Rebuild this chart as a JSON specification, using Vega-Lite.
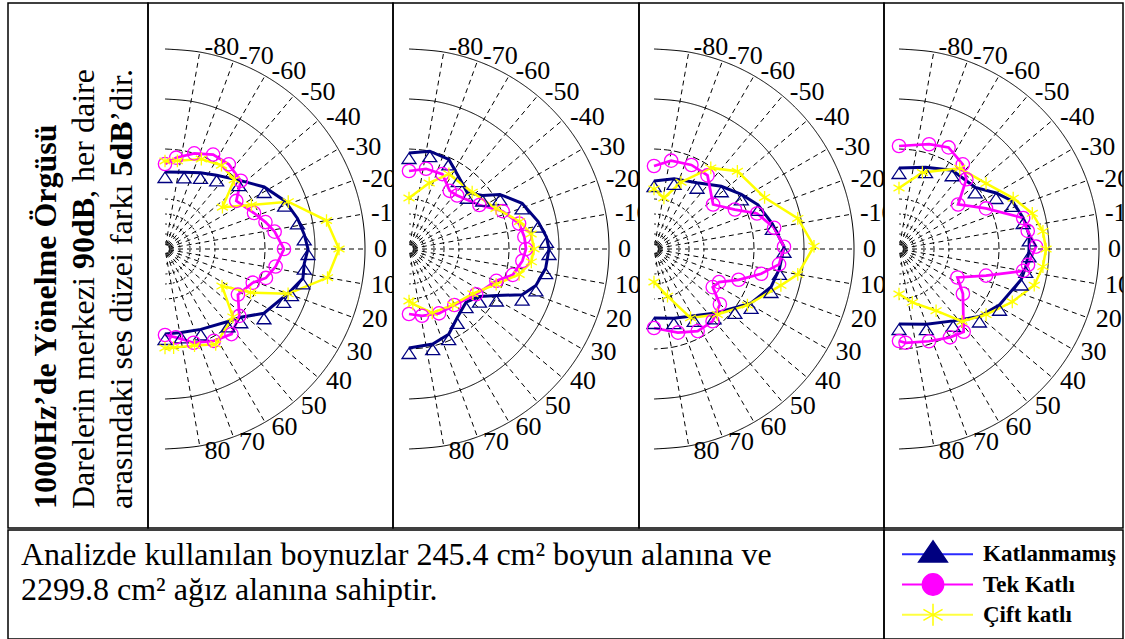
{
"$schema": "https://vega.github.io/schema/vega-lite/v6.json",
"background": "white",
"padding": {"left": 7, "top": 2, "right": 0, "bottom": 0},
"config": {"view": {"stroke": "black", "strokeWidth": 1.5}},
"datasets": {
"rings": [
{"lvl": 110, "a": [-90,-80,-70,-60,-50,-40,-30,-20,-10,0,10,20,30,40,50,60,70,80,90]},
{"lvl": 105, "a": [-90,-80,-70,-60,-50,-40,-30,-20,-10,0,10,20,30,40,50,60,70,80,90]},
{"lvl": 100, "a": [-90,-80,-70,-60,-50,-40,-30,-20,-10,0,10,20,30,40,50,60,70,80,90]},
{"lvl": 95, "a": [-90,-80,-70,-60,-50,-40,-30,-20,-10,0,10,20,30,40,50,60,70,80,90]},
{"lvl": 93.5, "a": [-90,-80,-70,-60,-50,-40,-30,-20,-10,0,10,20,30,40,50,60,70,80,90]},
{"lvl": 92.5, "a": [-90,-80,-70,-60,-50,-40,-30,-20,-10,0,10,20,30,40,50,60,70,80,90]},
{"lvl": 91.5, "a": [-90,-80,-70,-60,-50,-40,-30,-20,-10,0,10,20,30,40,50,60,70,80,90]},
{"lvl": 90.7, "a": [-90,-80,-70,-60,-50,-40,-30,-20,-10,0,10,20,30,40,50,60,70,80,90]}
],
"spokes": [{"a":-80},{"a":-70},{"a":-60},{"a":-50},{"a":-40},{"a":-30},{"a":-20},{"a":-10},{"a":0},{"a":10},{"a":20},{"a":30},{"a":40},{"a":50},{"a":60},{"a":70},{"a":80}],
"series": [
{"p":1,"s":"K","a":-90,"lvl":97.7},{"p":1,"s":"K","a":-76,"lvl":97.9},{"p":1,"s":"K","a":-65,"lvl":98.4},{"p":1,"s":"K","a":-55,"lvl":99.0},{"p":1,"s":"K","a":-43,"lvl":100.1},{"p":1,"s":"K","a":-32,"lvl":101.7},{"p":1,"s":"K","a":-22,"lvl":102.9},{"p":1,"s":"K","a":-13,"lvl":103.6},{"p":1,"s":"K","a":-6,"lvl":104.0},{"p":1,"s":"K","a":0,"lvl":104.3},{"p":1,"s":"K","a":6,"lvl":104.0},{"p":1,"s":"K","a":12,"lvl":104.1},{"p":1,"s":"K","a":18,"lvl":103.3},{"p":1,"s":"K","a":22,"lvl":102.8},{"p":1,"s":"K","a":33,"lvl":101.8},{"p":1,"s":"K","a":42,"lvl":100.2},{"p":1,"s":"K","a":49,"lvl":99.6},{"p":1,"s":"K","a":66,"lvl":98.8},{"p":1,"s":"K","a":79,"lvl":98.5},{"p":1,"s":"K","a":90,"lvl":98.5},
{"p":1,"s":"T","a":-90,"lvl":98.5},{"p":1,"s":"T","a":-83,"lvl":99.2},{"p":1,"s":"T","a":-73,"lvl":100.0},{"p":1,"s":"T","a":-63,"lvl":100.6},{"p":1,"s":"T","a":-53,"lvl":100.6},{"p":1,"s":"T","a":-42,"lvl":100.2},{"p":1,"s":"T","a":-34,"lvl":98.6},{"p":1,"s":"T","a":-22,"lvl":99.6},{"p":1,"s":"T","a":-15,"lvl":100.4},{"p":1,"s":"T","a":-9,"lvl":101.1},{"p":1,"s":"T","a":0,"lvl":101.9},{"p":1,"s":"T","a":9,"lvl":101.2},{"p":1,"s":"T","a":16,"lvl":100.5},{"p":1,"s":"T","a":21,"lvl":99.4},{"p":1,"s":"T","a":32,"lvl":98.6},{"p":1,"s":"T","a":42,"lvl":100.0},{"p":1,"s":"T","a":52,"lvl":100.8},{"p":1,"s":"T","a":62,"lvl":100.4},{"p":1,"s":"T","a":73,"lvl":99.8},{"p":1,"s":"T","a":83,"lvl":98.9},{"p":1,"s":"T","a":90,"lvl":98.6},
{"p":1,"s":"C","a":-90,"lvl":98.8},{"p":1,"s":"C","a":-82,"lvl":98.9},{"p":1,"s":"C","a":-68,"lvl":99.7},{"p":1,"s":"C","a":-56,"lvl":100.1},{"p":1,"s":"C","a":-45,"lvl":99.8},{"p":1,"s":"C","a":-36,"lvl":97.1},{"p":1,"s":"C","a":-27,"lvl":99.7},{"p":1,"s":"C","a":-21,"lvl":103.2},{"p":1,"s":"C","a":-10,"lvl":106.4},{"p":1,"s":"C","a":0,"lvl":107.4},{"p":1,"s":"C","a":10,"lvl":106.5},{"p":1,"s":"C","a":20,"lvl":103.1},{"p":1,"s":"C","a":27,"lvl":99.6},{"p":1,"s":"C","a":33,"lvl":96.8},{"p":1,"s":"C","a":45,"lvl":99.6},{"p":1,"s":"C","a":62,"lvl":100.8},{"p":1,"s":"C","a":73,"lvl":100.1},{"p":1,"s":"C","a":85,"lvl":99.9},{"p":1,"s":"C","a":90,"lvl":99.9},
{"p":2,"s":"K","a":-90,"lvl":99.6},{"p":2,"s":"K","a":-78,"lvl":100.0},{"p":2,"s":"K","a":-66,"lvl":99.8},{"p":2,"s":"K","a":-56,"lvl":98.8},{"p":2,"s":"K","a":-44,"lvl":98.1},{"p":2,"s":"K","a":-36,"lvl":99.1},{"p":2,"s":"K","a":-31,"lvl":100.6},{"p":2,"s":"K","a":-22,"lvl":102.2},{"p":2,"s":"K","a":-12,"lvl":103.2},{"p":2,"s":"K","a":-5,"lvl":103.8},{"p":2,"s":"K","a":0,"lvl":104.0},{"p":2,"s":"K","a":8,"lvl":103.8},{"p":2,"s":"K","a":16,"lvl":103.2},{"p":2,"s":"K","a":22,"lvl":102.2},{"p":2,"s":"K","a":28,"lvl":99.9},{"p":2,"s":"K","a":34,"lvl":98.5},{"p":2,"s":"K","a":43,"lvl":97.8},{"p":2,"s":"K","a":55,"lvl":98.4},{"p":2,"s":"K","a":65,"lvl":99.4},{"p":2,"s":"K","a":76,"lvl":99.8},{"p":2,"s":"K","a":90,"lvl":99.9},
{"p":2,"s":"T","a":-90,"lvl":97.8},{"p":2,"s":"T","a":-78,"lvl":98.2},{"p":2,"s":"T","a":-66,"lvl":98.2},{"p":2,"s":"T","a":-55,"lvl":97.1},{"p":2,"s":"T","a":-48,"lvl":97.2},{"p":2,"s":"T","a":-32,"lvl":98.3},{"p":2,"s":"T","a":-22,"lvl":100.1},{"p":2,"s":"T","a":-13,"lvl":101.3},{"p":2,"s":"T","a":-6,"lvl":101.6},{"p":2,"s":"T","a":0,"lvl":101.7},{"p":2,"s":"T","a":6,"lvl":101.4},{"p":2,"s":"T","a":14,"lvl":100.7},{"p":2,"s":"T","a":20,"lvl":99.3},{"p":2,"s":"T","a":34,"lvl":98.1},{"p":2,"s":"T","a":51,"lvl":97.2},{"p":2,"s":"T","a":65,"lvl":97.1},{"p":2,"s":"T","a":79,"lvl":96.8},{"p":2,"s":"T","a":90,"lvl":96.5},
{"p":2,"s":"C","a":-90,"lvl":95.1},{"p":2,"s":"C","a":-73,"lvl":96.9},{"p":2,"s":"C","a":-62,"lvl":98.5},{"p":2,"s":"C","a":-42,"lvl":98.5},{"p":2,"s":"C","a":-25,"lvl":99.6},{"p":2,"s":"C","a":-14,"lvl":101.4},{"p":2,"s":"C","a":-7,"lvl":102.3},{"p":2,"s":"C","a":0,"lvl":102.5},{"p":2,"s":"C","a":6,"lvl":102.3},{"p":2,"s":"C","a":13,"lvl":101.3},{"p":2,"s":"C","a":22,"lvl":99.4},{"p":2,"s":"C","a":35,"lvl":97.8},{"p":2,"s":"C","a":52,"lvl":97.1},{"p":2,"s":"C","a":70,"lvl":96.8},{"p":2,"s":"C","a":86,"lvl":95.5},{"p":2,"s":"C","a":90,"lvl":95.2},
{"p":3,"s":"K","a":-90,"lvl":96.8},{"p":3,"s":"K","a":-74,"lvl":97.3},{"p":3,"s":"K","a":-57,"lvl":97.9},{"p":3,"s":"K","a":-43,"lvl":99.2},{"p":3,"s":"K","a":-32,"lvl":100.3},{"p":3,"s":"K","a":-23,"lvl":101.3},{"p":3,"s":"K","a":-12,"lvl":102.1},{"p":3,"s":"K","a":-1,"lvl":103.0},{"p":3,"s":"K","a":9,"lvl":102.7},{"p":3,"s":"K","a":18,"lvl":102.3},{"p":3,"s":"K","a":29,"lvl":101.1},{"p":3,"s":"K","a":36,"lvl":100.0},{"p":3,"s":"K","a":47,"lvl":98.8},{"p":3,"s":"K","a":59,"lvl":97.8},{"p":3,"s":"K","a":74,"lvl":97.2},{"p":3,"s":"K","a":90,"lvl":96.9},
{"p":3,"s":"T","a":-90,"lvl":98.3},{"p":3,"s":"T","a":-79,"lvl":99.0},{"p":3,"s":"T","a":-66,"lvl":99.2},{"p":3,"s":"T","a":-54,"lvl":99.1},{"p":3,"s":"T","a":-37,"lvl":97.4},{"p":3,"s":"T","a":-26,"lvl":99.0},{"p":3,"s":"T","a":-19,"lvl":100.9},{"p":3,"s":"T","a":-10,"lvl":102.2},{"p":3,"s":"T","a":-1,"lvl":103.0},{"p":3,"s":"T","a":7,"lvl":102.6},{"p":3,"s":"T","a":13,"lvl":101.0},{"p":3,"s":"T","a":20,"lvl":99.0},{"p":3,"s":"T","a":27,"lvl":97.3},{"p":3,"s":"T","a":33,"lvl":97.0},{"p":3,"s":"T","a":40,"lvl":98.6},{"p":3,"s":"T","a":51,"lvl":99.3},{"p":3,"s":"T","a":62,"lvl":99.3},{"p":3,"s":"T","a":74,"lvl":98.7},{"p":3,"s":"T","a":90,"lvl":97.9},
{"p":3,"s":"C","a":-90,"lvl":96.0},{"p":3,"s":"C","a":-79,"lvl":95.2},{"p":3,"s":"C","a":-68,"lvl":97.2},{"p":3,"s":"C","a":-55,"lvl":99.9},{"p":3,"s":"C","a":-43,"lvl":101.4},{"p":3,"s":"C","a":-25,"lvl":102.2},{"p":3,"s":"C","a":-12,"lvl":104.7},{"p":3,"s":"C","a":-1,"lvl":106.0},{"p":3,"s":"C","a":10,"lvl":104.6},{"p":3,"s":"C","a":16,"lvl":103.2},{"p":3,"s":"C","a":31,"lvl":100.9},{"p":3,"s":"C","a":46,"lvl":99.1},{"p":3,"s":"C","a":62,"lvl":97.8},{"p":3,"s":"C","a":74,"lvl":94.9},{"p":3,"s":"C","a":90,"lvl":93.3},
{"p":4,"s":"K","a":-90,"lvl":98.1},{"p":4,"s":"K","a":-72,"lvl":98.6},{"p":4,"s":"K","a":-56,"lvl":99.5},{"p":4,"s":"K","a":-39,"lvl":99.8},{"p":4,"s":"K","a":-30,"lvl":101.2},{"p":4,"s":"K","a":-23,"lvl":102.3},{"p":4,"s":"K","a":-14,"lvl":102.8},{"p":4,"s":"K","a":-6,"lvl":103.1},{"p":4,"s":"K","a":1,"lvl":103.0},{"p":4,"s":"K","a":8,"lvl":102.8},{"p":4,"s":"K","a":14,"lvl":102.6},{"p":4,"s":"K","a":29,"lvl":101.5},{"p":4,"s":"K","a":40,"lvl":100.5},{"p":4,"s":"K","a":53,"lvl":99.0},{"p":4,"s":"K","a":70,"lvl":98.0},{"p":4,"s":"K","a":90,"lvl":97.5},
{"p":4,"s":"T","a":-90,"lvl":100.3},{"p":4,"s":"T","a":-74,"lvl":100.9},{"p":4,"s":"T","a":-64,"lvl":101.3},{"p":4,"s":"T","a":-53,"lvl":100.6},{"p":4,"s":"T","a":-46,"lvl":99.7},{"p":4,"s":"T","a":-37,"lvl":97.4},{"p":4,"s":"T","a":-25,"lvl":99.6},{"p":4,"s":"T","a":-14,"lvl":102.8},{"p":4,"s":"T","a":-8,"lvl":103.0},{"p":4,"s":"T","a":-1,"lvl":103.7},{"p":4,"s":"T","a":7,"lvl":103.0},{"p":4,"s":"T","a":10,"lvl":102.6},{"p":4,"s":"T","a":17,"lvl":99.1},{"p":4,"s":"T","a":26,"lvl":96.5},{"p":4,"s":"T","a":35,"lvl":97.8},{"p":4,"s":"T","a":52,"lvl":100.5},{"p":4,"s":"T","a":60,"lvl":100.2},{"p":4,"s":"T","a":72,"lvl":99.7},{"p":4,"s":"T","a":86,"lvl":99.4},{"p":4,"s":"T","a":90,"lvl":99.2},
{"p":4,"s":"C","a":-90,"lvl":96.1},{"p":4,"s":"C","a":-73,"lvl":98.0},{"p":4,"s":"C","a":-53,"lvl":100.1},{"p":4,"s":"C","a":-37,"lvl":100.9},{"p":4,"s":"C","a":-24,"lvl":102.5},{"p":4,"s":"C","a":-15,"lvl":103.8},{"p":4,"s":"C","a":-7,"lvl":104.5},{"p":4,"s":"C","a":0,"lvl":104.7},{"p":4,"s":"C","a":7,"lvl":104.5},{"p":4,"s":"C","a":15,"lvl":104.0},{"p":4,"s":"C","a":25,"lvl":102.5},{"p":4,"s":"C","a":37,"lvl":100.9},{"p":4,"s":"C","a":49,"lvl":99.6},{"p":4,"s":"C","a":59,"lvl":97.2},{"p":4,"s":"C","a":76,"lvl":95.5},{"p":4,"s":"C","a":90,"lvl":94.5}
]
},
"spacing": 0,
"resolve": {"scale": {"x": "independent", "y": "independent", "color": "independent", "shape": "independent", "size": "independent", "strokeWidth": "independent", "strokeDash": "independent", "fill": "independent", "stroke": "independent"}},
"vconcat": [
{
"spacing": 0,
"bounds": "flush",
"resolve": {"scale": {"x": "independent", "y": "independent", "color": "independent", "shape": "independent", "size": "independent", "strokeWidth": "independent", "strokeDash": "independent", "fill": "independent", "stroke": "independent"}},
"hconcat": [
{
"width": 140, "height": 525,
"data": {"values": [
{"line": 1, "em": 0, "b": true, "txt": "1000Hz’de Yönelme Örgüsü"},
{"line": 2, "em": 0, "b": false, "txt": "Darelerin merkezi"},
{"line": 2, "em": 7.497, "b": true, "txt": "90dB"},
{"line": 2, "em": 9.72, "b": false, "txt": ", her daire"},
{"line": 3, "em": 0, "b": false, "txt": "arasındaki ses düzei farkı"},
{"line": 3, "em": 10.386, "b": true, "txt": "5dB"},
{"line": 3, "em": 12.109, "b": false, "txt": "’dir."}
]},
"encoding": {
"x": {"field": "line", "type": "quantitative", "scale": {"domain": [-0.263, 3.421], "nice": false, "zero": false}, "axis": null},
"y": {"field": "em", "type": "quantitative", "scale": {"domain": [-0.594, 15.81], "nice": false, "zero": false}, "axis": null},
"text": {"field": "txt"}
},
"layer": [
{"transform": [{"filter": "datum.b"}], "mark": {"type": "text", "angle": 270, "align": "left", "baseline": "alphabetic", "font": "Liberation Serif", "fontSize": 32, "fontWeight": "bold", "color": "black"}},
{"transform": [{"filter": "!datum.b"}], "mark": {"type": "text", "angle": 270, "align": "left", "baseline": "alphabetic", "font": "Liberation Serif", "fontSize": 32, "fontWeight": "normal", "color": "black"}}
]
},
{
"width": 245, "height": 525,
"layer": [
{"data": {"name": "rings"}, "transform": [{"flatten": ["a"]}, {"calculate": "(datum.lvl-90)*cos(datum.a*PI/180)", "as": "x"}, {"calculate": "-(datum.lvl-90)*sin(datum.a*PI/180)", "as": "y"}],
"mark": {"type": "line", "interpolate": "cardinal", "color": "black", "strokeWidth": 1},
"encoding": {"x": {"field": "x", "type": "quantitative", "scale": {"domain": [-1.7, 22.8], "nice": false, "zero": false}, "axis": null}, "y": {"field": "y", "type": "quantitative", "scale": {"domain": [-27.9, 24.6], "nice": false, "zero": false}, "axis": null}, "order": {"field": "a", "type": "quantitative"}, "strokeDash": {"field": "lvl", "type": "ordinal", "scale": {"domain": [110, 105, 100, 95, 93.5, 92.5, 91.5, 90.7], "range": [[1, 0], [1, 0], [7, 3], [3, 3], [2, 2], [2, 2], [2, 2], [1, 1]]}, "legend": null}}},
{"data": {"name": "spokes"}, "transform": [{"calculate": "0.4*cos(datum.a*PI/180)", "as": "x"}, {"calculate": "-0.4*sin(datum.a*PI/180)", "as": "y"}, {"calculate": "20.2*cos(datum.a*PI/180)", "as": "x2"}, {"calculate": "-20.2*sin(datum.a*PI/180)", "as": "y2"}],
"mark": {"type": "rule", "color": "black", "strokeWidth": 1, "strokeDash": [5, 4]},
"encoding": {"x": {"field": "x", "type": "quantitative"}, "y": {"field": "y", "type": "quantitative"}, "x2": {"field": "x2"}, "y2": {"field": "y2"}}},
{"data": {"name": "spokes"}, "transform": [{"calculate": "20.5*cos(datum.a*PI/180)", "as": "x"}, {"calculate": "-20.5*sin(datum.a*PI/180)", "as": "y"}, {"calculate": "'' + datum.a", "as": "t"}],
"mark": {"type": "text", "align": "left", "baseline": "middle", "dx": 4, "font": "Liberation Sans Narrow", "fontSize": 26, "clip": true, "color": "black"},
"encoding": {"x": {"field": "x", "type": "quantitative"}, "y": {"field": "y", "type": "quantitative"}, "text": {"field": "t"}}},
{"data": {"name": "series"}, "transform": [{"filter": "datum.p == 1"}, {"calculate": "(datum.lvl-90)*cos(datum.a*PI/180)", "as": "x"}, {"calculate": "-(datum.lvl-90)*sin(datum.a*PI/180)", "as": "y"}],
"mark": {"type": "line"},
"encoding": {"x": {"field": "x", "type": "quantitative"}, "y": {"field": "y", "type": "quantitative"}, "order": {"field": "a", "type": "quantitative"}, "color": {"field": "s", "type": "nominal", "scale": {"domain": ["K", "T", "C"], "range": ["#000080", "#ff00ff", "#ffff00"]}, "legend": null}, "strokeWidth": {"field": "s", "type": "nominal", "scale": {"domain": ["K", "T", "C"], "range": [3, 2.5, 3]}, "legend": null}}},
{"data": {"name": "series"}, "transform": [{"filter": "datum.p == 1"}, {"calculate": "(datum.lvl-90)*cos(datum.a*PI/180)", "as": "x"}, {"calculate": "-(datum.lvl-90)*sin(datum.a*PI/180)", "as": "y"}],
"mark": {"type": "point", "filled": false, "strokeWidth": 1.3, "opacity": 1},
"encoding": {"x": {"field": "x", "type": "quantitative"}, "y": {"field": "y", "type": "quantitative"}, "color": {"field": "s", "type": "nominal", "scale": {"domain": ["K", "T", "C"], "range": ["#000080", "#ff00ff", "#ffff00"]}, "legend": null}, "shape": {"field": "s", "type": "nominal", "scale": {"domain": ["K", "T", "C"], "range": ["M0,0L-1,1.5L1,1.5Z", "circle", "M0,-1L0,1M-0.87,-0.5L0.87,0.5M-0.87,0.5L0.87,-0.5"]}, "legend": null}, "size": {"field": "s", "type": "nominal", "scale": {"domain": ["K", "T", "C"], "range": [196, 160, 150]}, "legend": null}}}
]
},
{
"width": 246, "height": 525,
"layer": [
{"data": {"name": "rings"}, "transform": [{"flatten": ["a"]}, {"calculate": "(datum.lvl-90)*cos(datum.a*PI/180)", "as": "x"}, {"calculate": "-(datum.lvl-90)*sin(datum.a*PI/180)", "as": "y"}],
"mark": {"type": "line", "interpolate": "cardinal", "color": "black", "strokeWidth": 1},
"encoding": {"x": {"field": "x", "type": "quantitative", "scale": {"domain": [-1.6, 23.0], "nice": false, "zero": false}, "axis": null}, "y": {"field": "y", "type": "quantitative", "scale": {"domain": [-27.9, 24.6], "nice": false, "zero": false}, "axis": null}, "order": {"field": "a", "type": "quantitative"}, "strokeDash": {"field": "lvl", "type": "ordinal", "scale": {"domain": [110, 105, 100, 95, 93.5, 92.5, 91.5, 90.7], "range": [[1, 0], [1, 0], [7, 3], [3, 3], [2, 2], [2, 2], [2, 2], [1, 1]]}, "legend": null}}},
{"data": {"name": "spokes"}, "transform": [{"calculate": "0.4*cos(datum.a*PI/180)", "as": "x"}, {"calculate": "-0.4*sin(datum.a*PI/180)", "as": "y"}, {"calculate": "20.2*cos(datum.a*PI/180)", "as": "x2"}, {"calculate": "-20.2*sin(datum.a*PI/180)", "as": "y2"}],
"mark": {"type": "rule", "color": "black", "strokeWidth": 1, "strokeDash": [5, 4]},
"encoding": {"x": {"field": "x", "type": "quantitative"}, "y": {"field": "y", "type": "quantitative"}, "x2": {"field": "x2"}, "y2": {"field": "y2"}}},
{"data": {"name": "spokes"}, "transform": [{"calculate": "20.5*cos(datum.a*PI/180)", "as": "x"}, {"calculate": "-20.5*sin(datum.a*PI/180)", "as": "y"}, {"calculate": "'' + datum.a", "as": "t"}],
"mark": {"type": "text", "align": "left", "baseline": "middle", "dx": 4, "font": "Liberation Sans Narrow", "fontSize": 26, "clip": true, "color": "black"},
"encoding": {"x": {"field": "x", "type": "quantitative"}, "y": {"field": "y", "type": "quantitative"}, "text": {"field": "t"}}},
{"data": {"name": "series"}, "transform": [{"filter": "datum.p == 2"}, {"calculate": "(datum.lvl-90)*cos(datum.a*PI/180)", "as": "x"}, {"calculate": "-(datum.lvl-90)*sin(datum.a*PI/180)", "as": "y"}],
"mark": {"type": "line"},
"encoding": {"x": {"field": "x", "type": "quantitative"}, "y": {"field": "y", "type": "quantitative"}, "order": {"field": "a", "type": "quantitative"}, "color": {"field": "s", "type": "nominal", "scale": {"domain": ["K", "T", "C"], "range": ["#000080", "#ff00ff", "#ffff00"]}, "legend": null}, "strokeWidth": {"field": "s", "type": "nominal", "scale": {"domain": ["K", "T", "C"], "range": [3, 2.5, 3]}, "legend": null}}},
{"data": {"name": "series"}, "transform": [{"filter": "datum.p == 2"}, {"calculate": "(datum.lvl-90)*cos(datum.a*PI/180)", "as": "x"}, {"calculate": "-(datum.lvl-90)*sin(datum.a*PI/180)", "as": "y"}],
"mark": {"type": "point", "filled": false, "strokeWidth": 1.3, "opacity": 1},
"encoding": {"x": {"field": "x", "type": "quantitative"}, "y": {"field": "y", "type": "quantitative"}, "color": {"field": "s", "type": "nominal", "scale": {"domain": ["K", "T", "C"], "range": ["#000080", "#ff00ff", "#ffff00"]}, "legend": null}, "shape": {"field": "s", "type": "nominal", "scale": {"domain": ["K", "T", "C"], "range": ["M0,0L-1,1.5L1,1.5Z", "circle", "M0,-1L0,1M-0.87,-0.5L0.87,0.5M-0.87,0.5L0.87,-0.5"]}, "legend": null}, "size": {"field": "s", "type": "nominal", "scale": {"domain": ["K", "T", "C"], "range": [196, 160, 150]}, "legend": null}}}
]
},
{
"width": 245, "height": 525,
"layer": [
{"data": {"name": "rings"}, "transform": [{"flatten": ["a"]}, {"calculate": "(datum.lvl-90)*cos(datum.a*PI/180)", "as": "x"}, {"calculate": "-(datum.lvl-90)*sin(datum.a*PI/180)", "as": "y"}],
"mark": {"type": "line", "interpolate": "cardinal", "color": "black", "strokeWidth": 1},
"encoding": {"x": {"field": "x", "type": "quantitative", "scale": {"domain": [-1.5, 23.0], "nice": false, "zero": false}, "axis": null}, "y": {"field": "y", "type": "quantitative", "scale": {"domain": [-27.9, 24.6], "nice": false, "zero": false}, "axis": null}, "order": {"field": "a", "type": "quantitative"}, "strokeDash": {"field": "lvl", "type": "ordinal", "scale": {"domain": [110, 105, 100, 95, 93.5, 92.5, 91.5, 90.7], "range": [[1, 0], [1, 0], [7, 3], [3, 3], [2, 2], [2, 2], [2, 2], [1, 1]]}, "legend": null}}},
{"data": {"name": "spokes"}, "transform": [{"calculate": "0.4*cos(datum.a*PI/180)", "as": "x"}, {"calculate": "-0.4*sin(datum.a*PI/180)", "as": "y"}, {"calculate": "20.2*cos(datum.a*PI/180)", "as": "x2"}, {"calculate": "-20.2*sin(datum.a*PI/180)", "as": "y2"}],
"mark": {"type": "rule", "color": "black", "strokeWidth": 1, "strokeDash": [5, 4]},
"encoding": {"x": {"field": "x", "type": "quantitative"}, "y": {"field": "y", "type": "quantitative"}, "x2": {"field": "x2"}, "y2": {"field": "y2"}}},
{"data": {"name": "spokes"}, "transform": [{"calculate": "20.5*cos(datum.a*PI/180)", "as": "x"}, {"calculate": "-20.5*sin(datum.a*PI/180)", "as": "y"}, {"calculate": "'' + datum.a", "as": "t"}],
"mark": {"type": "text", "align": "left", "baseline": "middle", "dx": 4, "font": "Liberation Sans Narrow", "fontSize": 26, "clip": true, "color": "black"},
"encoding": {"x": {"field": "x", "type": "quantitative"}, "y": {"field": "y", "type": "quantitative"}, "text": {"field": "t"}}},
{"data": {"name": "series"}, "transform": [{"filter": "datum.p == 3"}, {"calculate": "(datum.lvl-90)*cos(datum.a*PI/180)", "as": "x"}, {"calculate": "-(datum.lvl-90)*sin(datum.a*PI/180)", "as": "y"}],
"mark": {"type": "line"},
"encoding": {"x": {"field": "x", "type": "quantitative"}, "y": {"field": "y", "type": "quantitative"}, "order": {"field": "a", "type": "quantitative"}, "color": {"field": "s", "type": "nominal", "scale": {"domain": ["K", "T", "C"], "range": ["#000080", "#ff00ff", "#ffff00"]}, "legend": null}, "strokeWidth": {"field": "s", "type": "nominal", "scale": {"domain": ["K", "T", "C"], "range": [3, 2.5, 3]}, "legend": null}}},
{"data": {"name": "series"}, "transform": [{"filter": "datum.p == 3"}, {"calculate": "(datum.lvl-90)*cos(datum.a*PI/180)", "as": "x"}, {"calculate": "-(datum.lvl-90)*sin(datum.a*PI/180)", "as": "y"}],
"mark": {"type": "point", "filled": false, "strokeWidth": 1.3, "opacity": 1},
"encoding": {"x": {"field": "x", "type": "quantitative"}, "y": {"field": "y", "type": "quantitative"}, "color": {"field": "s", "type": "nominal", "scale": {"domain": ["K", "T", "C"], "range": ["#000080", "#ff00ff", "#ffff00"]}, "legend": null}, "shape": {"field": "s", "type": "nominal", "scale": {"domain": ["K", "T", "C"], "range": ["M0,0L-1,1.5L1,1.5Z", "circle", "M0,-1L0,1M-0.87,-0.5L0.87,0.5M-0.87,0.5L0.87,-0.5"]}, "legend": null}, "size": {"field": "s", "type": "nominal", "scale": {"domain": ["K", "T", "C"], "range": [196, 160, 150]}, "legend": null}}}
]
},
{
"width": 239, "height": 525,
"layer": [
{"data": {"name": "rings"}, "transform": [{"flatten": ["a"]}, {"calculate": "(datum.lvl-90)*cos(datum.a*PI/180)", "as": "x"}, {"calculate": "-(datum.lvl-90)*sin(datum.a*PI/180)", "as": "y"}],
"mark": {"type": "line", "interpolate": "cardinal", "color": "black", "strokeWidth": 1},
"encoding": {"x": {"field": "x", "type": "quantitative", "scale": {"domain": [-1.5, 22.4], "nice": false, "zero": false}, "axis": null}, "y": {"field": "y", "type": "quantitative", "scale": {"domain": [-27.9, 24.6], "nice": false, "zero": false}, "axis": null}, "order": {"field": "a", "type": "quantitative"}, "strokeDash": {"field": "lvl", "type": "ordinal", "scale": {"domain": [110, 105, 100, 95, 93.5, 92.5, 91.5, 90.7], "range": [[1, 0], [1, 0], [7, 3], [3, 3], [2, 2], [2, 2], [2, 2], [1, 1]]}, "legend": null}}},
{"data": {"name": "spokes"}, "transform": [{"calculate": "0.4*cos(datum.a*PI/180)", "as": "x"}, {"calculate": "-0.4*sin(datum.a*PI/180)", "as": "y"}, {"calculate": "20.2*cos(datum.a*PI/180)", "as": "x2"}, {"calculate": "-20.2*sin(datum.a*PI/180)", "as": "y2"}],
"mark": {"type": "rule", "color": "black", "strokeWidth": 1, "strokeDash": [5, 4]},
"encoding": {"x": {"field": "x", "type": "quantitative"}, "y": {"field": "y", "type": "quantitative"}, "x2": {"field": "x2"}, "y2": {"field": "y2"}}},
{"data": {"name": "spokes"}, "transform": [{"calculate": "20.5*cos(datum.a*PI/180)", "as": "x"}, {"calculate": "-20.5*sin(datum.a*PI/180)", "as": "y"}, {"calculate": "'' + datum.a", "as": "t"}],
"mark": {"type": "text", "align": "left", "baseline": "middle", "dx": 4, "font": "Liberation Sans Narrow", "fontSize": 26, "clip": true, "color": "black"},
"encoding": {"x": {"field": "x", "type": "quantitative"}, "y": {"field": "y", "type": "quantitative"}, "text": {"field": "t"}}},
{"data": {"name": "series"}, "transform": [{"filter": "datum.p == 4"}, {"calculate": "(datum.lvl-90)*cos(datum.a*PI/180)", "as": "x"}, {"calculate": "-(datum.lvl-90)*sin(datum.a*PI/180)", "as": "y"}],
"mark": {"type": "line"},
"encoding": {"x": {"field": "x", "type": "quantitative"}, "y": {"field": "y", "type": "quantitative"}, "order": {"field": "a", "type": "quantitative"}, "color": {"field": "s", "type": "nominal", "scale": {"domain": ["K", "T", "C"], "range": ["#000080", "#ff00ff", "#ffff00"]}, "legend": null}, "strokeWidth": {"field": "s", "type": "nominal", "scale": {"domain": ["K", "T", "C"], "range": [3, 2.5, 3]}, "legend": null}}},
{"data": {"name": "series"}, "transform": [{"filter": "datum.p == 4"}, {"calculate": "(datum.lvl-90)*cos(datum.a*PI/180)", "as": "x"}, {"calculate": "-(datum.lvl-90)*sin(datum.a*PI/180)", "as": "y"}],
"mark": {"type": "point", "filled": false, "strokeWidth": 1.3, "opacity": 1},
"encoding": {"x": {"field": "x", "type": "quantitative"}, "y": {"field": "y", "type": "quantitative"}, "color": {"field": "s", "type": "nominal", "scale": {"domain": ["K", "T", "C"], "range": ["#000080", "#ff00ff", "#ffff00"]}, "legend": null}, "shape": {"field": "s", "type": "nominal", "scale": {"domain": ["K", "T", "C"], "range": ["M0,0L-1,1.5L1,1.5Z", "circle", "M0,-1L0,1M-0.87,-0.5L0.87,0.5M-0.87,0.5L0.87,-0.5"]}, "legend": null}, "size": {"field": "s", "type": "nominal", "scale": {"domain": ["K", "T", "C"], "range": [196, 160, 150]}, "legend": null}}}
]
}
]
},
{
"spacing": 0,
"bounds": "flush",
"resolve": {"scale": {"x": "independent", "y": "independent", "color": "independent", "shape": "independent", "size": "independent", "strokeWidth": "independent", "strokeDash": "independent", "fill": "independent", "stroke": "independent"}},
"hconcat": [
{
"width": 876, "height": 109,
"data": {"values": [
{"line": 1, "em": 0, "txt": "Analizde kullanılan boynuzlar 245.4 cm² boyun alanına ve"},
{"line": 2, "em": 0, "txt": "2299.8 cm² ağız alanına sahiptir."}
]},
"mark": {"type": "text", "align": "left", "baseline": "alphabetic", "font": "Liberation Serif", "fontSize": 32, "color": "black"},
"encoding": {
"x": {"field": "em", "type": "quantitative", "scale": {"domain": [-0.406, 26.97], "nice": false, "zero": false}, "axis": null},
"y": {"field": "line", "type": "quantitative", "scale": {"domain": [0, 3.114], "reverse": true, "nice": false, "zero": false}, "axis": null},
"text": {"field": "txt"}
}
},
{
"width": 239, "height": 109,
"data": {"values": [
{"s": "K", "name": "Katlanmamış"},
{"s": "T", "name": "Tek Katlı"},
{"s": "C", "name": "Çift katlı"}
]},
"encoding": {
"y": {"field": "name", "type": "nominal", "sort": null, "scale": {"type": "point", "padding": 0.8}, "axis": null}
},
"layer": [
{"mark": {"type": "rule", "strokeWidth": 2},
"encoding": {"x": {"datum": 1.8, "type": "quantitative", "scale": {"domain": [0, 23.9], "nice": false, "zero": false}, "axis": null}, "x2": {"datum": 8.9}, "color": {"field": "s", "type": "nominal", "scale": {"domain": ["K", "T", "C"], "range": ["#2a2aff", "#ff00ff", "#ffff40"]}, "legend": null}}},
{"mark": {"type": "point", "filled": true, "opacity": 1, "strokeWidth": 1.5},
"encoding": {"x": {"datum": 4.9, "type": "quantitative"}, "fill": {"field": "s", "type": "nominal", "scale": {"domain": ["K", "T", "C"], "range": ["#000080", "#ff00ff", "#ffff00"]}, "legend": null}, "stroke": {"field": "s", "type": "nominal", "scale": {"domain": ["K", "T", "C"], "range": ["#000080", "#ff00ff", "#ffff00"]}, "legend": null}, "shape": {"field": "s", "type": "nominal", "scale": {"domain": ["K", "T", "C"], "range": ["M0,-1.3L-1.4,0.75L1.4,0.75Z", "circle", "M0,-1L0,1M-0.87,-0.5L0.87,0.5M-0.87,0.5L0.87,-0.5"]}, "legend": null}, "size": {"field": "s", "type": "nominal", "scale": {"domain": ["K", "T", "C"], "range": [420, 484, 324]}, "legend": null}}},
{"mark": {"type": "text", "align": "left", "baseline": "middle", "font": "Liberation Serif", "fontSize": 23, "fontWeight": "bold", "color": "black"},
"encoding": {"x": {"datum": 9.9, "type": "quantitative"}, "text": {"field": "name"}}}
]
}
]
}
]
}
